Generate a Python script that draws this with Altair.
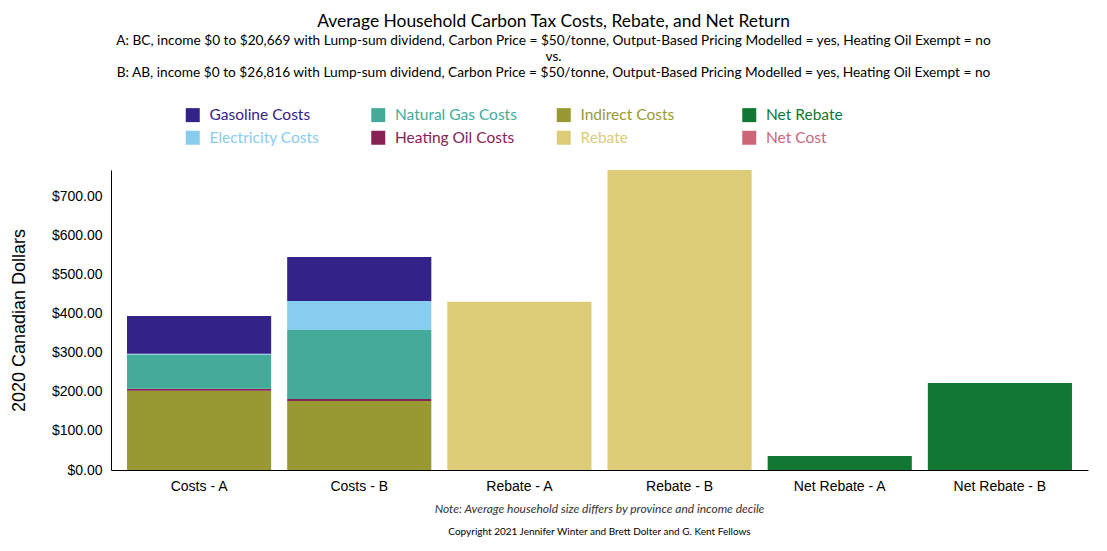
import altair as alt
import pandas as pd

# ---- data ----
categories = ["Costs - A", "Costs - B", "Rebate - A", "Rebate - B", "Net Rebate - A", "Net Rebate - B"]
components = ["Gasoline Costs", "Electricity Costs", "Natural Gas Costs", "Heating Oil Costs",
              "Indirect Costs", "Rebate", "Net Rebate", "Net Cost"]
colors = ["#332288", "#88CCEE", "#44AA99", "#882255", "#999933", "#DDCC77", "#117733", "#CC6677"]
# stacking order from bottom
stack_order = ["Indirect Costs", "Heating Oil Costs", "Natural Gas Costs", "Electricity Costs", "Gasoline Costs"]

costs_a = {"Indirect Costs": 203, "Heating Oil Costs": 5, "Natural Gas Costs": 88,
           "Electricity Costs": 2, "Gasoline Costs": 97}
costs_b = {"Indirect Costs": 177, "Heating Oil Costs": 5, "Natural Gas Costs": 177,
           "Electricity Costs": 74, "Gasoline Costs": 113}
rebate_a = 431
rebate_b = 769
net_rebate_a = 36
net_rebate_b = 223

rows = []
for cat, d in [("Costs - A", costs_a), ("Costs - B", costs_b)]:
    for comp in stack_order:
        rows.append({"category": cat, "component": comp, "value": d[comp], "order": stack_order.index(comp)})
rows.append({"category": "Rebate - A", "component": "Rebate", "value": rebate_a, "order": 0})
rows.append({"category": "Rebate - B", "component": "Rebate", "value": rebate_b, "order": 0})
rows.append({"category": "Net Rebate - A", "component": "Net Rebate", "value": net_rebate_a, "order": 0})
rows.append({"category": "Net Rebate - B", "component": "Net Rebate", "value": net_rebate_b, "order": 0})
df = pd.DataFrame(rows)

# legend fills row-major with 4 columns; arrange so it reads column-major like the original
legend_domain = [components[i] for i in [0, 2, 4, 6, 1, 3, 5, 7]]
legend_range = [colors[components.index(c)] for c in legend_domain]

label_color_expr = " : ".join(
    f"datum.label == '{c}' ? '{col}'" for c, col in zip(components, colors)
) + " : '#000'"

title_text = "Average Household Carbon Tax Costs, Rebate, and Net Return"
subtitle_lines = [
    "A: BC, income $0 to $20,669 with Lump-sum dividend, Carbon Price = $50/tonne, Output-Based Pricing Modelled = yes, Heating Oil Exempt = no",
    "vs.",
    "B: AB, income $0 to $26,816 with Lump-sum dividend, Carbon Price = $50/tonne, Output-Based Pricing Modelled = yes, Heating Oil Exempt = no",
]
note_text = "Note: Average household size differs by province and income decile"
copyright_text = "Copyright 2021 Jennifer Winter and Brett Dolter and G. Kent Fellows"

W, H = 977, 300

bars = alt.Chart(df).mark_bar().encode(
    x=alt.X("category:N", sort=categories,
            scale=alt.Scale(paddingInner=0.1, paddingOuter=0.1),
            axis=alt.Axis(title=None, labelAngle=0, ticks=False, domainColor="#000",
                          labelFont="Liberation Sans", labelFontSize=14, labelColor="#000",
                          labelPadding=9)),
    y=alt.Y("value:Q", stack="zero",
            scale=alt.Scale(domain=[0, rebate_b], nice=False),
            axis=alt.Axis(title="2020 Canadian Dollars", format="$,.2f", values=list(range(0, 800, 100)),
                          ticks=False, grid=False, domainColor="#000",
                          labelFont="Liberation Sans", labelFontSize=14, labelColor="#000",
                          labelPadding=9,
                          titleFont="Liberation Sans", titleFontSize=18, titleFontWeight="normal",
                          titleColor="#000", titleX=-92, titleY=H / 2, titleAngle=270,
                          titleAlign="center", titleBaseline="middle")),
    color=alt.Color("component:N",
                    scale=alt.Scale(domain=legend_domain, range=legend_range),
                    legend=alt.Legend(title=None, orient="none", legendX=74, legendY=-63,
                                      columns=4, direction="horizontal", gridAlign="all",
                                      columnPadding=38.5, rowPadding=6,
                                      symbolType="square", symbolSize=196, symbolStrokeWidth=0,
                                      symbolOpacity=1, labelOffset=9,
                                      labelFont="Lato", labelFontSize=15.5,
                                      labelColor=alt.ExprRef(label_color_expr))),
    order=alt.Order("order:Q"),
)

note = alt.Chart(pd.DataFrame({"t": [note_text]})).mark_text(
    font="Lato", fontSize=12, fontStyle="italic", color="#333", align="center", baseline="middle"
).encode(x=alt.value(W / 2), y=alt.value(H + 39), text="t:N")

copyright = alt.Chart(pd.DataFrame({"t": [copyright_text]})).mark_text(
    font="Lato", fontSize=10, color="#000", align="center", baseline="middle"
).encode(x=alt.value(W / 2), y=alt.value(H + 62), text="t:N")

chart = alt.layer(bars, note, copyright).properties(
    width=W, height=H,
    autosize=alt.AutoSizeParams(type="none"),
    padding={"left": 103, "top": 162, "right": 11, "bottom": 73},
    title=alt.TitleParams(text=title_text, subtitle=subtitle_lines, anchor="middle", frame="group",
                          dx=-46, font="Lato", fontSize=17.4, fontWeight="normal", color="#000",
                          subtitleFont="Lato", subtitleFontSize=13.7, subtitleColor="#000",
                          subtitleLineHeight=16, subtitlePadding=4, offset=27),
).configure_view(stroke=None)

chart.save("out.html", embed_options={"renderer": "svg", "actions": False})
